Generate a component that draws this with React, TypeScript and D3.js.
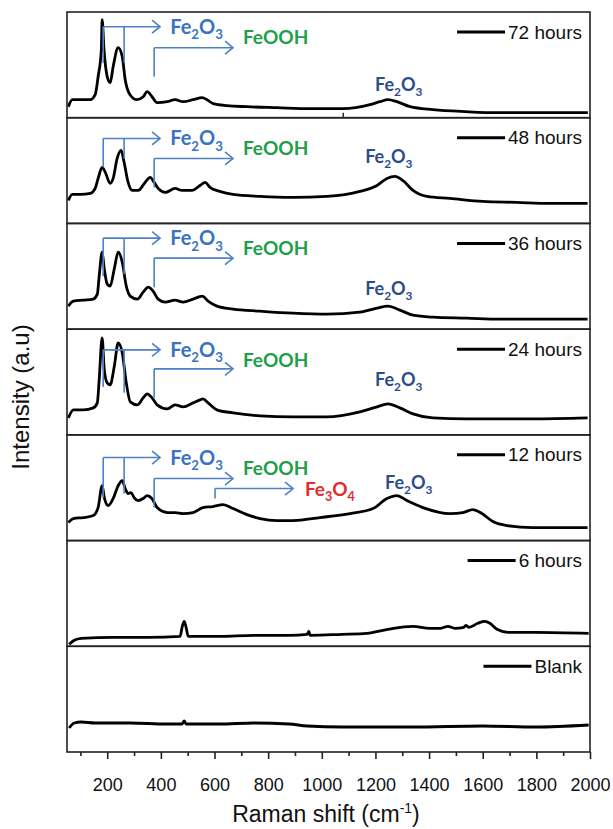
import { useEffect, useRef } from "react";
import * as d3 from "d3";

type Pt = [number, number];

const W = 613;
const H = 829;

// panels from top to bottom
const panelLabels = ["72 hours", "48 hours", "36 hours", "24 hours", "12 hours", "6 hours", "Blank"];

// Raman shift (cm-1) vs intensity (a.u., offset inside each panel)
const spectrum72h: Pt[] = [
	[55, 11], [70, 18], [100, 18], [137, 18], [155, 23], [166, 41], [178, 68], [181, 98], [188, 68],
	[200, 41], [211, 35], [222, 51], [241, 70], [256, 61], [267, 38], [285, 23], [311, 18], [334, 21],
	[349, 26], [367, 21], [386, 15], [424, 16], [453, 18], [483, 16], [520, 18], [554, 20], [572, 18],
	[595, 14], [647, 12], [722, 11], [833, 10], [956, 9], [1079, 9], [1180, 13], [1217, 16], [1247, 18],
	[1280, 16], [1329, 11], [1414, 8], [1541, 6], [1664, 5], [1787, 5], [1992, 5],
];
const spectrum48h: Pt[] = [
	[55, 23], [70, 29], [100, 29], [137, 30], [155, 35], [166, 45], [181, 56], [193, 51], [211, 40],
	[222, 45], [237, 65], [252, 73], [263, 61], [278, 41], [293, 33], [315, 33], [341, 41], [360, 46],
	[375, 41], [390, 35], [416, 31], [453, 35], [479, 33], [516, 33], [546, 38], [565, 41], [583, 36],
	[620, 32], [669, 29], [770, 27], [892, 26], [1019, 27], [1142, 32], [1206, 38], [1243, 45], [1273, 47],
	[1302, 43], [1340, 33], [1392, 27], [1478, 25], [1600, 22], [1727, 21], [1850, 20], [1991, 20],
];
const spectrum36h: Pt[] = [
	[55, 23], [74, 28], [111, 29], [148, 30], [163, 35], [170, 53], [181, 77], [189, 60], [200, 45],
	[211, 43], [226, 60], [241, 77], [256, 67], [271, 43], [286, 33], [312, 30], [334, 37], [353, 42],
	[371, 38], [390, 30], [416, 27], [453, 29], [483, 27], [520, 30], [554, 33], [576, 28], [609, 23],
	[669, 20], [770, 18], [892, 16], [1019, 15], [1142, 17], [1206, 21], [1247, 23], [1291, 19], [1340, 14],
	[1414, 12], [1541, 11], [1664, 10], [1787, 10], [1991, 10],
];
const spectrum24h: Pt[] = [
	[55, 17], [74, 25], [111, 25], [148, 27], [163, 32], [170, 55], [181, 97], [189, 65], [200, 52],
	[211, 50], [226, 68], [241, 92], [256, 82], [271, 52], [286, 33], [312, 30], [334, 37], [349, 41],
	[367, 37], [386, 30], [424, 26], [453, 30], [483, 28], [520, 32], [546, 35], [557, 36], [576, 32],
	[609, 25], [669, 22], [770, 19], [892, 18], [1019, 18], [1142, 23], [1206, 28], [1247, 31], [1291, 27],
	[1340, 21], [1414, 17], [1541, 16], [1664, 16], [1787, 16], [1991, 17],
];
const spectrum12h: Pt[] = [
	[55, 18], [74, 22], [111, 23], [148, 25], [166, 33], [181, 55], [189, 43], [204, 35], [222, 42],
	[241, 55], [256, 60], [267, 52], [278, 47], [289, 48], [300, 43], [315, 40], [334, 42], [349, 45],
	[367, 42], [386, 33], [424, 28], [453, 28], [483, 27], [520, 28], [557, 33], [594, 34], [632, 36],
	[669, 32], [721, 26], [770, 22], [833, 20], [893, 20], [993, 23], [1105, 27], [1191, 32], [1243, 42],
	[1280, 45], [1317, 40], [1377, 33], [1478, 27], [1526, 28], [1563, 31], [1597, 27], [1638, 19],
	[1690, 15], [1787, 13], [1913, 13], [1991, 13],
];
const spectrum6h: Pt[] = [
	[58, 2], [77, 6], [103, 8], [222, 9], [353, 9], [472, 10], [479, 19], [487, 25], [494, 19], [502, 10],
	[617, 10], [747, 11], [878, 11], [945, 12], [952, 15], [956, 11], [1075, 12], [1168, 13], [1246, 17],
	[1339, 20], [1403, 18], [1443, 18], [1470, 20], [1496, 18], [1530, 19], [1537, 21], [1548, 19],
	[1582, 23], [1608, 25], [1627, 23], [1653, 17], [1694, 14], [1798, 14], [1995, 13],
];
const spectrumBlank: Pt[] = [
	[58, 24], [77, 29], [103, 30], [155, 29], [286, 29], [420, 28], [479, 28], [487, 31], [494, 28],
	[617, 28], [747, 29], [878, 28], [945, 26], [1075, 25], [1339, 25], [1600, 26], [1798, 25], [1995, 27],
];
const spectra = [spectrum72h, spectrum48h, spectrum36h, spectrum24h, spectrum12h, spectrum6h, spectrumBlank];

// axis
const xDomain: [number, number] = [50, 2000];
const majorTicks = [200, 400, 600, 800, 1000, 1200, 1400, 1600, 1800, 2000];
const minorTicks = [100, 300, 500, 700, 900, 1100, 1300, 1500, 1700, 1900];
const strayTick = 1080; // little tick under the 72 h trace

// peak assignments (Raman shift) and where the arrows end
const fe2o3Modes = [185, 263];
const feoohMode = 375;
const fe3o4Mode = 602;
const fe2o3ArrowEnd = 397;
const feoohArrowEnd = 669;
const fe3o4ArrowEnd = 893;
const fe2o3TextAt = 435;
const feoohTextAt = 706;
const fe3o4TextAt = 937;

// per panel levels (first five panels)
const fe2o3Level = [91, 85, 91, 85, 83];
const fe2o3Drop: [number, number][] = [[55, 55], [56, 65], [53, 55], [48, 42], [43, 47]];
const feoohLevel = [70, 65, 71, 66, 62];
const feoohDrop = [41, 36, 42, 37, 33];
const feoohTextLevel = [81, 75, 81, 75, 73];
const hematiteBandX = [1287, 1250, 1250, 1287, 1324];
const hematiteBandLevel = [33, 66, 40, 55, 58];
const fe3o4Panel = 4;
const fe3o4Level = 52;
const fe3o4Drop = 42;

const FONT = "Arial, 'Liberation Sans', sans-serif";
const LABEL_FONT = "Lato, 'Open Sans', sans-serif";
const arrowBlue = "#4f81c6";
const fe2o3Blue = "#3a73c2";
const hematiteNavy = "#2c4c8c";
const feoohGreen = "#1e9f4a";
const fe3o4Red = "#e52a2d";

function App() {
	const ref = useRef<SVGSVGElement>(null);

	useEffect(() => {
		const svg = d3.select(ref.current);
		svg.selectAll("*").remove();

		const margin = { top: 12, right: 23, bottom: 77, left: 67 };
		const innerW = W - margin.left - margin.right;
		const innerH = H - margin.top - margin.bottom;

		const x = d3.scaleLinear().domain(xDomain).range([margin.left, margin.left + innerW]);
		const band = d3
			.scaleBand()
			.domain(panelLabels)
			.range([margin.top, margin.top + innerH])
			.padding(0);
		const bw = band.bandwidth();

		// subscripted formula like Fe2O3
		const formula = (g, parts, px, py, size, color, anchor = "start") => {
			const t = g
				.append("text")
				.attr("x", px)
				.attr("y", py)
				.attr("text-anchor", anchor)
				.attr("font-family", LABEL_FONT)
				.attr("font-weight", 700)
				.attr("font-size", size)
				.attr("fill", color);
			let low = false;
			parts.forEach((p) => {
				const sub = /^\d$/.test(p);
				const dy = sub && !low ? size * 0.28 : !sub && low ? -size * 0.28 : 0;
				low = sub;
				t.append("tspan")
					.attr("dy", dy)
					.attr("font-size", sub ? size * 0.66 : size)
					.text(p);
			});
		};

		const arrow = (g, xs: number[], drops: number[], xEnd: number, yv: number, y) => {
			const yy = y(yv);
			g.append("line")
				.attr("x1", x(xs[0]))
				.attr("x2", x(xEnd))
				.attr("y1", yy)
				.attr("y2", yy)
				.attr("stroke", arrowBlue)
				.attr("stroke-width", 1.6);
			xs.forEach((xv, i) => {
				g.append("line")
					.attr("x1", x(xv))
					.attr("x2", x(xv))
					.attr("y1", yy)
					.attr("y2", y(drops[i]))
					.attr("stroke", arrowBlue)
					.attr("stroke-width", 1.6);
			});
			const xe = x(xEnd);
			g.append("path")
				.attr("d", `M${xe - 8},${yy - 6.5}L${xe},${yy}L${xe - 8},${yy + 6.5}`)
				.attr("fill", "none")
				.attr("stroke", arrowBlue)
				.attr("stroke-width", 1.6);
		};

		panelLabels.forEach((label, i) => {
			const top = band(label);
			const y = d3.scaleLinear().domain([0, bw]).range([top + bw, top]);
			const g = svg.append("g");

			// spectrum
			const line = d3
				.line<Pt>()
				.x((d) => x(d[0]))
				.y((d) => y(d[1]))
				.curve(d3.curveMonotoneX);
			g.append("path")
				.datum(spectra[i])
				.attr("d", line)
				.attr("fill", "none")
				.attr("stroke", "#000")
				.attr("stroke-width", 2.8)
				.attr("stroke-linejoin", "round");

			// annotations
			if (i < 5) {
				arrow(g, fe2o3Modes, fe2o3Drop[i], fe2o3ArrowEnd, fe2o3Level[i], y);
				arrow(g, [feoohMode], [feoohDrop[i]], feoohArrowEnd, feoohLevel[i], y);
				formula(g, ["Fe", "2", "O", "3"], x(fe2o3TextAt), y(fe2o3Level[i]) + 7, 20, fe2o3Blue);
				g.append("text")
					.attr("x", x(feoohTextAt))
					.attr("y", y(feoohTextLevel[i]) + 7)
					.attr("font-family", LABEL_FONT)
					.attr("font-weight", 700)
					.attr("font-size", 19)
					.attr("fill", feoohGreen)
					.text("FeOOH");
				formula(
					g,
					["Fe", "2", "O", "3"],
					x(hematiteBandX[i]),
					y(hematiteBandLevel[i]) + 6,
					18,
					hematiteNavy,
					"middle",
				);
			}
			if (i === fe3o4Panel) {
				arrow(g, [fe3o4Mode], [fe3o4Drop], fe3o4ArrowEnd, fe3o4Level, y);
				formula(g, ["Fe", "3", "O", "4"], x(fe3o4TextAt), y(fe3o4Level) + 7, 19, fe3o4Red);
			}

			// legend
			const ly = top + 20;
			const txt = g
				.append("text")
				.attr("x", 582)
				.attr("y", ly + 6.5)
				.attr("text-anchor", "end")
				.attr("font-family", FONT)
				.attr("font-size", 19)
				.attr("fill", "#111")
				.text(label);
			const tw = (txt.node() as SVGTextElement).getComputedTextLength();
			g.append("line")
				.attr("x1", 582 - tw - 51)
				.attr("x2", 582 - tw - 3)
				.attr("y1", ly)
				.attr("y2", ly)
				.attr("stroke", "#000")
				.attr("stroke-width", 3);

			// frame
			g.append("rect")
				.attr("x", margin.left)
				.attr("y", top)
				.attr("width", innerW)
				.attr("height", bw)
				.attr("fill", "none")
				.attr("stroke", "#222")
				.attr("stroke-width", 1.6);

			if (i === 0) {
				g.append("line")
					.attr("x1", x(strayTick))
					.attr("x2", x(strayTick))
					.attr("y1", top + bw - 5)
					.attr("y2", top + bw)
					.attr("stroke", "#222")
					.attr("stroke-width", 1.4);
			}
		});

		// bottom axis
		const axisY = margin.top + innerH;
		const major = svg
			.append("g")
			.attr("transform", `translate(0,${axisY})`)
			.call(d3.axisBottom(x).tickValues(majorTicks).tickSize(7).tickPadding(19).tickFormat(d3.format("d")));
		major.select(".domain").remove();
		major.selectAll("line").attr("stroke", "#222").attr("stroke-width", 1.6);
		major.selectAll("text").attr("font-family", FONT).attr("font-size", 18).attr("fill", "#111");

		const minor = svg
			.append("g")
			.attr("transform", `translate(0,${axisY})`)
			.call(d3.axisBottom(x).tickValues(minorTicks).tickSize(4).tickFormat(() => ""));
		minor.select(".domain").remove();
		minor.selectAll("line").attr("stroke", "#222").attr("stroke-width", 1.6);

		// axis titles
		const xt = svg
			.append("text")
			.attr("x", 326)
			.attr("y", 822)
			.attr("text-anchor", "middle")
			.attr("font-family", FONT)
			.attr("font-size", 23)
			.attr("fill", "#111");
		xt.append("tspan").text("Raman shift (cm");
		xt.append("tspan").attr("dy", -9).attr("font-size", 14).text("-1");
		xt.append("tspan").attr("dy", 9).text(")");

		svg.append("text")
			.attr("transform", `translate(29,${397}) rotate(-90)`)
			.attr("text-anchor", "middle")
			.attr("font-family", FONT)
			.attr("font-size", 24)
			.attr("fill", "#111")
			.text("Intensity (a.u)");
	}, []);

	return (
		<svg
			ref={ref}
			width={W}
			height={H}
			style={{ position: "absolute", left: 0, top: 0, background: "#fff" }}
		/>
	);
}

export default App;
